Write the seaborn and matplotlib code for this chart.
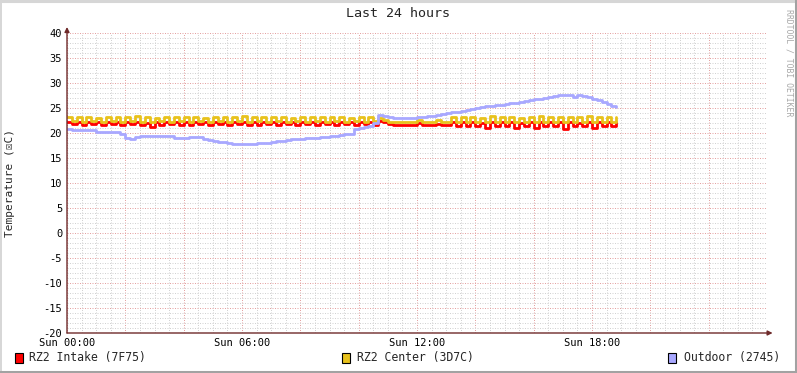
import matplotlib
matplotlib.use('Agg')
import matplotlib.pyplot as plt
import matplotlib.dates as mdates
from matplotlib.ticker import MultipleLocator, FuncFormatter
from matplotlib.lines import Line2D
from matplotlib.patches import Rectangle
import pandas as pd
import seaborn as sns

# readings every 10 minutes, Sunday from 00:00 on
START = '2024-01-07 00:00'

intake = [
    22.3, 21.8, 22.2, 21.7, 22.3, 21.8, 22.2, 21.7, 22.3, 21.8,
    22.2, 21.7, 22.3, 21.8, 22.2, 21.7, 22.1, 21.3, 22.2, 21.7,
    22.3, 21.8, 22.2, 21.7, 22.3, 21.7, 22.2, 21.8, 22.2, 21.7,
    22.3, 21.8, 22.2, 21.7, 22.3, 21.8, 22.2, 21.7, 22.3, 21.7,
    22.2, 21.8, 22.3, 21.7, 22.2, 21.8, 22.3, 21.7, 22.2, 21.8,
    22.3, 21.7, 22.2, 21.8, 22.3, 21.7, 22.2, 21.8, 22.3, 21.7,
    22.2, 21.8, 22.3, 21.7, 22.5, 22.2, 21.8,
    21.7, 21.7, 21.7, 21.7, 21.7, 22.0, 21.7, 21.7, 21.7, 21.9, 21.7, 21.7,
    22.2, 21.5, 22.3, 21.4, 22.2, 21.5, 22.1, 21.0, 22.2, 21.4, 22.3,
    21.5, 22.2, 21.0, 22.1, 21.4, 22.3, 21.0, 22.2, 21.5, 22.2,
    21.4, 22.3, 20.9, 22.2, 21.5, 22.1, 21.4, 22.3, 21.0, 22.2,
    21.5, 22.3, 21.4, 22.2,
]

center = [
    23.2, 22.4, 23.3, 22.3, 23.2, 22.4, 23.1, 22.3, 23.3, 22.4,
    23.2, 22.3, 23.2, 22.4, 23.4, 22.3, 23.2, 22.2, 23.1, 22.4,
    23.3, 22.3, 23.2, 22.4, 23.2, 22.3, 23.3, 22.4, 23.1, 22.3,
    23.2, 22.4, 23.3, 22.3, 23.2, 22.4, 23.5, 22.3, 23.2, 22.4,
    23.2, 22.3, 23.3, 22.4, 23.2, 22.3, 23.1, 22.4, 23.2, 22.3,
    23.3, 22.4, 23.2, 22.3, 23.2, 22.4, 23.3, 22.3, 23.1, 22.4,
    23.2, 22.3, 23.3, 22.4, 23.0, 22.6, 22.3,
    22.3, 22.3, 22.3, 22.3, 22.3, 22.7, 22.3, 22.3, 22.3, 22.6, 22.3, 22.3,
    23.2, 22.3, 23.3, 22.2, 23.2, 22.3, 23.1, 22.2, 23.4, 22.3, 23.2,
    22.2, 23.3, 22.3, 23.1, 22.2, 23.2, 22.3, 23.4, 22.2, 23.3,
    22.3, 23.2, 22.2, 23.3, 22.3, 23.2, 22.2, 23.4, 22.3, 23.2,
    22.2, 23.3, 22.3, 23.2,
]

outdoor = [
    20.8, 20.7, 20.7, 20.6, 20.6, 20.6, 20.3, 20.2, 20.2, 20.2,
    20.2, 19.8, 19.0, 18.8, 19.3, 19.4, 19.4, 19.4, 19.5, 19.5,
    19.5, 19.4, 19.1, 19.1, 19.1, 19.2, 19.3, 19.2, 18.8, 18.6,
    18.4, 18.3, 18.2, 18.0, 17.9, 17.9, 17.9, 17.8, 17.9, 18.0,
    18.0, 18.1, 18.2, 18.4, 18.5, 18.7, 18.8, 18.9, 18.9, 19.0,
    19.1, 19.1, 19.2, 19.3, 19.4, 19.5, 19.7, 19.8, 19.9, 20.8,
    21.0, 21.2, 21.5, 22.1, 23.6, 23.4, 23.2, 23.1, 23.1, 23.1,
    23.1, 23.1, 23.2, 23.2, 23.4, 23.5, 23.7, 23.8, 24.0, 24.2,
    24.3, 24.4, 24.7, 24.9, 25.0, 25.2, 25.4, 25.5, 25.6, 25.7,
    25.9, 26.0, 26.1, 26.3, 26.5, 26.6, 26.8, 26.9, 27.1, 27.3,
    27.4, 27.6, 27.7, 27.6, 27.3, 27.6, 27.5, 27.2, 26.9, 26.6,
    26.2, 25.9, 25.5, 25.3,
]

labels = ['RZ2 Intake (7F75)', 'RZ2 Center (3D7C)', 'Outdoor (2745)']
colours = ['#FF0000', '#E8C21C', '#A8A8FF']

sns.set_style('white')
plt.rcParams['font.family'] = ['DejaVu Sans Mono', 'DejaVu Sans']
plt.rcParams['axes.unicode_minus'] = False

times = pd.date_range(START, periods=len(outdoor), freq='10min')
t0 = times[0]
t1 = t0 + pd.Timedelta(hours=24)

W, H = 797, 373
fig = plt.figure(figsize=(W / 100, H / 100), dpi=100)
fig.patch.set_facecolor('white')
ax = fig.add_axes([67 / W, 40 / H, 700 / W, 300 / H])

for values, colour, z in zip([intake, center, outdoor], colours, [3, 4, 5]):
    sns.lineplot(x=times, y=values, ax=ax, color=colour, linewidth=2.0,
                 drawstyle='steps-post', zorder=z)

ax.set_xlim(t0, t1)
ax.set_ylim(-20, 40)
ax.set_xlabel('')
ax.set_ylabel('')

ax.xaxis.set_major_locator(mdates.HourLocator(byhour=range(0, 24, 2)))
ax.xaxis.set_minor_locator(mdates.MinuteLocator(byminute=[0, 30]))


def time_label(x, pos):
    d = mdates.num2date(x)
    if d.hour % 6 == 0 and d.weekday() == 6:
        return d.strftime('%a %H:%M')
    return ''


ax.xaxis.set_major_formatter(FuncFormatter(time_label))
ax.yaxis.set_major_locator(MultipleLocator(5))
ax.yaxis.set_minor_locator(MultipleLocator(1))

ax.grid(which='minor', color='#D2D2D2', linestyle=(0, (1, 1.5)), linewidth=0.72)
ax.grid(which='major', color='#E4A2A2', linestyle=(0, (1, 1.5)), linewidth=0.72)
ax.set_axisbelow(True)

for s in ax.spines.values():
    s.set_visible(False)

ax.tick_params(which='major', direction='inout', length=4, width=0.7,
               color='#D07070', labelsize=7.5, pad=1.5, labelcolor='black')
ax.tick_params(which='minor', direction='inout', length=2, width=0.7,
               color='#BBBBBB')

# axes with arrow heads
arrow = dict(arrowstyle='-|>', color='#6E2A2A', lw=1.0, mutation_scale=7,
             shrinkA=0, shrinkB=0)
ax.annotate('', xy=(0, 1.02), xytext=(0, 0), xycoords='axes fraction',
            arrowprops=arrow, annotation_clip=False, zorder=10)
ax.annotate('', xy=(1.008, 0), xytext=(0, 0), xycoords='axes fraction',
            arrowprops=arrow, annotation_clip=False, zorder=10)

fig.text(398 / W, 1 - 13.5 / H, 'Last 24 hours', ha='center', va='center',
         fontsize=9.6)
fig.text(10 / W, 1 - 183 / H, 'Temperature (☒C)', rotation=90,
         ha='center', va='center', fontsize=8)
fig.text(789 / W, 1 - 9 / H, 'RRDTOOL / TOBI OETIKER', rotation=270,
         ha='center', va='top', fontsize=5.9, color='#A8A8A8')

# legend row
box_x = [15, 342, 668]
text_x = [29, 357, 684]
for lab, colour, bx, tx in zip(labels, colours, box_x, text_x):
    fig.add_artist(Rectangle((bx / W, (H - 363) / H), 8 / W, 10 / H,
                             facecolor=colour, edgecolor='black',
                             linewidth=0.8, transform=fig.transFigure))
    fig.text(tx / W, (H - 358) / H, lab, ha='left', va='center', fontsize=8.3)

# 3d frame around the canvas
fig.add_artist(Line2D([0, 1], [1 - 1 / H, 1 - 1 / H], color='#D6D6D6',
                      linewidth=2.2, transform=fig.transFigure))
fig.add_artist(Line2D([0.5 / W, 0.5 / W], [0, 1], color='#D6D6D6',
                      linewidth=1.4, transform=fig.transFigure))
fig.add_artist(Line2D([0, 1], [1.5 / H, 1.5 / H], color='#A2A2A2',
                      linewidth=2.2, transform=fig.transFigure))
fig.add_artist(Line2D([1 - 1.5 / W, 1 - 1.5 / W], [0, 1], color='#A2A2A2',
                      linewidth=2.2, transform=fig.transFigure))

fig.savefig('out.png', dpi=100)
